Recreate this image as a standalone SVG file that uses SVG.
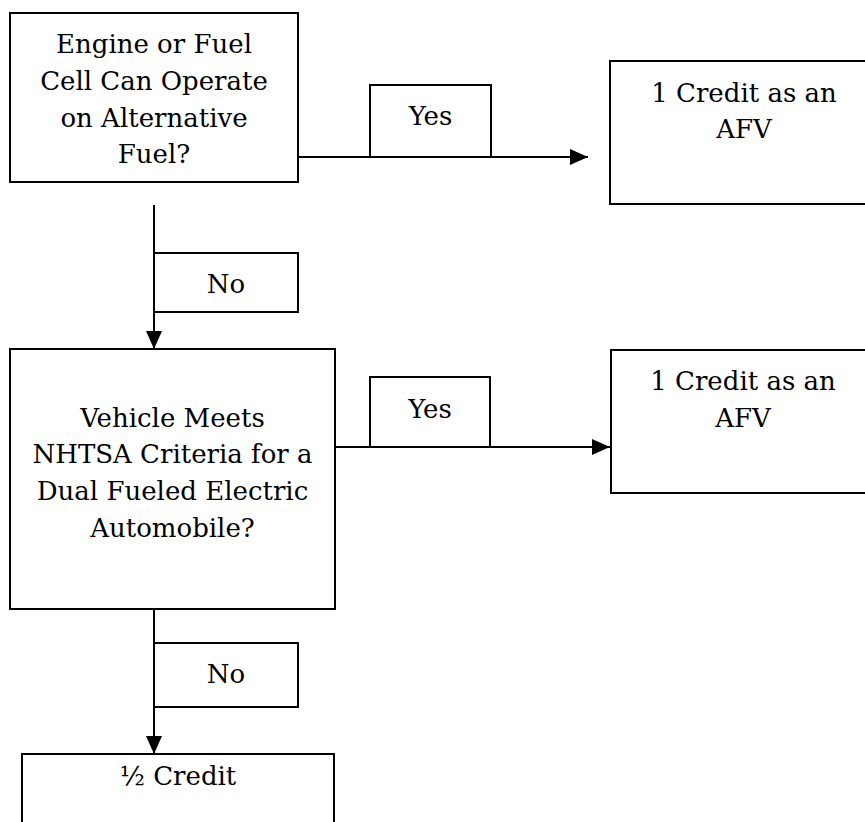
<svg xmlns="http://www.w3.org/2000/svg" width="865" height="822" viewBox="0 0 865 822" font-family="'DejaVu Serif', serif">
<style>
.box{fill:#fff;stroke:#000;stroke-width:2}
.t{font-size:26px;fill:#000;text-anchor:middle}
.c{stroke:#000;stroke-width:2;fill:none}
</style>
<defs>
<marker id="ah" markerUnits="userSpaceOnUse" markerWidth="20" markerHeight="20" refX="18" refY="9" orient="auto">
<path d="M0,1 L18,9 L0,17 Z" fill="#000"/>
</marker>
</defs>
<rect width="865" height="822" fill="#fff"/>
<g id="connectors">
<line class="c" x1="298" y1="157" x2="588" y2="157" marker-end="url(#ah)"/>
<line class="c" x1="154" y1="205" x2="154" y2="349" marker-end="url(#ah)"/>
<line class="c" x1="335" y1="447" x2="610" y2="447" marker-end="url(#ah)"/>
<line class="c" x1="154" y1="609" x2="154" y2="754" marker-end="url(#ah)"/>
</g>
<g id="q1">
<rect class="box" x="10" y="13" width="288" height="169"/>
<text class="t" x="154" y="53">Engine or Fuel</text>
<text class="t" x="154" y="90">Cell Can Operate</text>
<text class="t" x="154" y="127">on Alternative</text>
<text class="t" x="154" y="163">Fuel?</text>
</g>
<g id="yes1">
<rect class="box" x="370" y="85" width="121" height="72"/>
<text class="t" x="430.5" y="125">Yes</text>
</g>
<g id="afv1">
<rect class="box" x="610" y="61" width="270" height="143"/>
<text class="t" x="744" y="102">1 Credit as an</text>
<text class="t" x="744" y="138">AFV</text>
</g>
<g id="no1">
<rect class="box" x="154" y="253" width="144" height="59"/>
<text class="t" x="226" y="293">No</text>
</g>
<g id="q2">
<rect class="box" x="10" y="349" width="325" height="260"/>
<text class="t" x="172.5" y="427">Vehicle Meets</text>
<text class="t" x="172.5" y="463">NHTSA Criteria for a</text>
<text class="t" x="172.5" y="500">Dual Fueled Electric</text>
<text class="t" x="172.5" y="537">Automobile?</text>
</g>
<g id="yes2">
<rect class="box" x="370" y="377" width="120" height="70"/>
<text class="t" x="430" y="418">Yes</text>
</g>
<g id="afv2">
<rect class="box" x="611" y="350" width="270" height="143"/>
<text class="t" x="743" y="390">1 Credit as an</text>
<text class="t" x="743" y="427">AFV</text>
</g>
<g id="no2">
<rect class="box" x="154" y="643" width="144" height="64"/>
<text class="t" x="226" y="683">No</text>
</g>
<g id="half">
<rect class="box" x="22" y="754" width="312" height="90"/>
<text class="t" x="178" y="785">½ Credit</text>
</g>
</svg>
